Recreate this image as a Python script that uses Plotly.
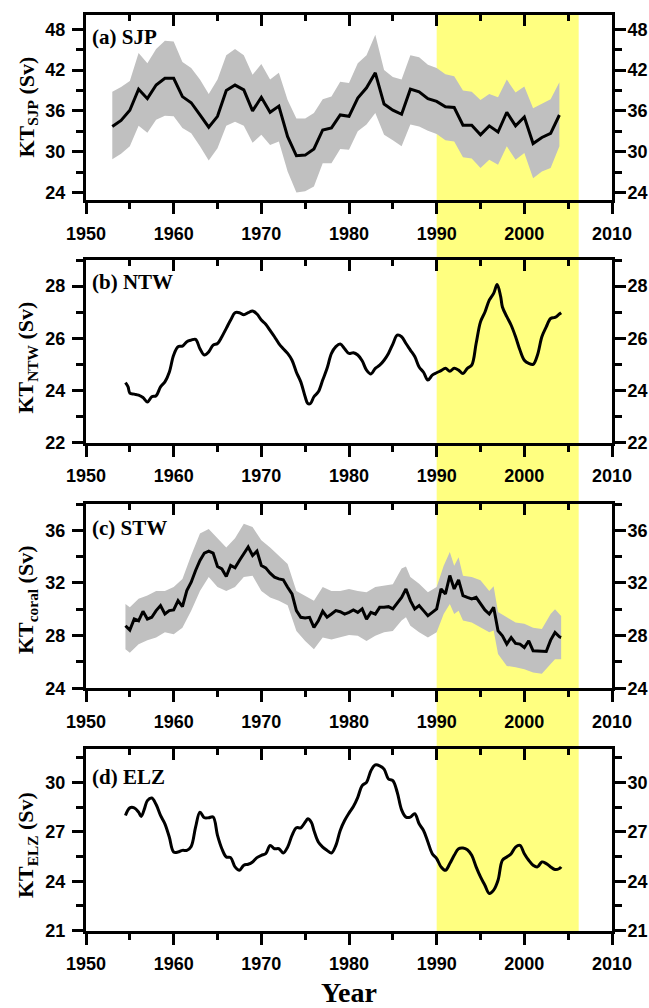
import plotly.graph_objects as go

# ---------------- data ----------------
# (a) SJP annual
sjp_years = list(range(1953, 2005))
sjp_mean = [33.7, 34.6, 36.1, 39.2, 37.8, 39.8, 40.8, 40.8, 38.1, 37.2,
            35.4, 33.6, 35.2, 39.0, 39.8, 39.1, 36.0, 38.0, 35.8, 36.7,
            32.2, 29.4, 29.5, 30.4, 33.2, 33.5, 35.4, 35.2, 37.9, 39.4,
            41.6, 37.0, 36.1, 35.5, 39.2, 38.8, 37.8, 37.4, 36.6, 36.5,
            33.9, 33.9, 32.5, 33.8, 32.9, 35.8, 33.8, 35.1, 31.2, 32.1,
            32.7, 35.4]
sjp_upper = [38.8, 39.5, 40.4, 44.5, 43.0, 45.1, 46.3, 46.2, 43.2, 42.3,
             40.6, 38.5, 40.6, 44.2, 45.1, 44.2, 41.3, 42.9, 40.6, 41.6,
             37.6, 34.9, 34.9, 35.7, 37.7, 38.1, 40.3, 40.1, 43.0, 44.2,
             47.2, 42.0, 41.0, 40.6, 44.2, 43.9, 42.8, 42.3, 41.4, 41.1,
             39.0, 38.8, 37.6, 38.5, 38.0, 40.6, 38.7, 39.6, 36.4, 37.1,
             37.7, 40.2]
sjp_lower = [28.9, 29.7, 30.8, 33.8, 32.8, 34.7, 35.3, 35.2, 33.5, 32.7,
             30.8, 28.7, 30.5, 33.8, 34.4, 33.8, 31.3, 32.5, 31.0, 31.5,
             27.1, 24.0, 24.2, 24.9, 28.3, 28.3, 30.4, 30.3, 33.0, 34.0,
             35.7, 32.5, 31.7, 30.8, 34.0, 33.7, 33.1, 32.6, 31.7, 31.5,
             29.2, 29.0, 27.6, 28.8, 28.1, 30.8, 28.8, 29.8, 26.1, 27.1,
             27.6, 30.8]

# (b) NTW
ntw_years = [1954.5, 1954.8, 1955.0, 1955.5, 1956.0, 1956.5, 1957.0, 1957.5, 1958.0, 1958.5,
             1959.0, 1959.5, 1960.0, 1960.5, 1961.0, 1961.5, 1962.0, 1962.5, 1963.0, 1963.5,
             1964.0, 1964.5, 1965.0, 1965.5, 1966.0, 1966.5, 1967.0, 1967.5, 1968.0, 1968.5,
             1969.0, 1969.5, 1970.0, 1970.5, 1971.0, 1971.5, 1972.0, 1972.5, 1973.0, 1973.5,
             1974.0, 1974.5, 1975.0, 1975.3, 1975.6, 1976.0, 1976.5, 1977.0, 1977.5, 1978.0,
             1978.5, 1979.0, 1979.5, 1980.0, 1980.5, 1981.0, 1981.5, 1982.0, 1982.5, 1983.0,
             1983.5, 1984.0, 1984.5, 1985.0, 1985.5, 1986.0, 1986.5, 1987.0, 1987.5, 1988.0,
             1988.5, 1989.0, 1989.5, 1990.0, 1990.5, 1991.0, 1991.5, 1992.0, 1992.5, 1993.0,
             1993.5, 1994.0, 1994.5, 1995.0, 1995.5, 1996.0, 1996.5, 1996.9, 1997.3, 1997.5,
             1998.0, 1998.5, 1999.0, 1999.5, 2000.0, 2000.5, 2001.0, 2001.5, 2002.0, 2002.5,
             2003.0, 2003.5, 2004.0, 2004.2]
ntw_vals = [24.30, 24.14, 23.90, 23.86, 23.82, 23.73, 23.56, 23.76, 23.80, 24.14,
            24.33, 24.70, 25.36, 25.68, 25.70, 25.87, 25.93, 25.96, 25.60, 25.36,
            25.48, 25.74, 25.80, 26.06, 26.38, 26.70, 26.98, 26.98, 26.90, 26.98,
            27.05, 26.93, 26.70, 26.54, 26.30, 26.06, 25.80, 25.60, 25.42, 25.16,
            24.70, 24.33, 23.76, 23.50, 23.50, 23.76, 23.95, 24.40, 24.85, 25.42,
            25.68, 25.78, 25.60, 25.42, 25.45, 25.36, 25.14, 24.78, 24.63, 24.85,
            24.97, 25.16, 25.42, 25.78, 26.12, 26.06, 25.80, 25.55, 25.30, 24.90,
            24.70, 24.40, 24.59, 24.68, 24.76, 24.85, 24.74, 24.85, 24.78, 24.65,
            24.85, 24.97, 25.80, 26.63, 27.00, 27.46, 27.72, 28.06, 27.60, 27.20,
            26.83, 26.50, 26.06, 25.55, 25.16, 25.04, 25.00, 25.36, 26.06, 26.44,
            26.76, 26.80, 26.93, 26.98]

# (c) STW
stw_years = [1954.5, 1955.0, 1955.5, 1956.0, 1956.5, 1957.0, 1957.5, 1958.0, 1958.5, 1959.0,
             1959.5, 1960.0, 1960.5, 1961.0, 1961.5, 1962.0, 1962.5, 1963.0, 1963.5, 1964.0,
             1964.5, 1965.0, 1965.5, 1966.0, 1966.5, 1967.0, 1967.5, 1968.0, 1968.5, 1969.0,
             1969.5, 1970.0, 1970.5, 1971.0, 1971.5, 1972.0, 1972.5, 1973.0, 1973.5, 1974.0,
             1974.5, 1975.0, 1975.5, 1976.0, 1976.5, 1977.0, 1977.5, 1978.0, 1978.5, 1979.0,
             1979.5, 1980.0, 1980.5, 1981.0, 1981.5, 1982.0, 1982.5, 1983.0, 1983.5, 1984.0,
             1984.5, 1985.0, 1985.5, 1986.0, 1986.5, 1987.0, 1987.5, 1988.0, 1988.5, 1989.0,
             1989.5, 1990.0, 1990.5, 1991.0, 1991.5, 1992.0, 1992.5, 1993.0, 1993.5, 1994.0,
             1994.5, 1995.0, 1995.5, 1996.0, 1996.5, 1997.0, 1997.5, 1998.0, 1998.5, 1999.0,
             1999.5, 2000.0, 2000.5, 2001.0, 2001.5, 2002.0, 2002.5, 2003.0, 2003.5, 2004.0,
             2004.2]
stw_mean = [28.75, 28.42, 29.26, 29.13, 29.85, 29.26, 29.40, 29.90, 30.28, 29.64,
            29.90, 29.95, 30.66, 30.20, 31.42, 32.06, 32.95, 33.71, 34.27, 34.42,
            34.27, 33.25, 33.07, 32.49, 33.33, 33.15, 33.71, 34.22, 34.73, 34.09,
            34.42, 33.33, 33.15, 32.75, 32.44, 32.31, 32.24, 31.68, 31.17, 29.90,
            29.39, 29.34, 29.39, 28.63, 29.13, 29.85, 29.40, 29.64, 29.90, 29.82,
            29.64, 29.77, 29.95, 29.77, 30.03, 29.26, 29.77, 29.64, 30.15, 30.15,
            30.20, 30.03, 30.46, 30.91, 31.55, 30.66, 30.03, 30.28, 29.90, 29.52,
            29.77, 30.03, 31.55, 31.17, 32.57, 31.55, 32.24, 31.04, 30.91, 30.79,
            30.91, 30.41, 29.95, 29.64, 30.15, 28.37, 27.99, 27.36, 27.86, 27.41,
            27.36, 27.10, 27.61, 26.85, 26.85, 26.80, 26.80, 27.66, 28.24, 27.91,
            27.86]
stw_band_years = [1954.5, 1955, 1956, 1957, 1958, 1959, 1960, 1961, 1962, 1963,
                  1964, 1965, 1966, 1967, 1968, 1969, 1970, 1971, 1972, 1973,
                  1974, 1975, 1976, 1977, 1978, 1979, 1980, 1981, 1982, 1983,
                  1984, 1985, 1986, 1986.5, 1987, 1988, 1989, 1990, 1990.8, 1991.5,
                  1992, 1992.5, 1993, 1994, 1995, 1996, 1996.5, 1997, 1998, 1999,
                  2000, 2001, 2002, 2003, 2003.5, 2004.2]
stw_upper = [30.40, 30.15, 30.80, 31.05, 31.40, 31.40, 31.70, 32.30, 34.10, 35.75,
             36.10, 35.40, 34.70, 35.40, 36.50, 36.25, 35.25, 34.70, 34.10, 33.45,
             31.40, 31.05, 30.65, 31.70, 31.40, 31.40, 31.55, 31.40, 31.30, 31.70,
             31.80, 31.90, 33.10, 33.25, 32.45, 31.95, 31.30, 31.70, 33.30, 34.35,
             33.30, 33.95, 32.55, 32.45, 32.20, 31.40, 31.75, 29.80, 29.40, 29.00,
             28.90, 28.60, 28.50, 29.65, 30.00, 29.50]
stw_lower = [26.97, 26.70, 27.35, 27.65, 27.85, 28.25, 28.10, 28.60, 29.90, 31.40,
             32.45, 31.70, 31.40, 31.70, 32.45, 32.55, 31.40, 30.90, 30.65, 30.30,
             28.35, 27.60, 26.97, 27.85, 27.70, 27.85, 28.05, 28.00, 27.60, 28.00,
             28.25, 28.35, 29.15, 29.40, 28.75, 28.25, 27.85, 28.25, 29.65, 30.40,
             29.65, 29.90, 29.15, 29.00, 28.60, 28.25, 28.40, 26.60, 25.70, 25.60,
             25.45, 25.20, 25.10, 25.85, 26.20, 26.20]

# (d) ELZ
elz_years = [1954.5, 1955.0, 1955.5, 1956.0, 1956.3, 1956.7, 1957.0, 1957.5, 1958.0, 1958.5,
             1959.0, 1959.5, 1960.0, 1960.5, 1961.0, 1961.5, 1962.0, 1962.5, 1963.0, 1963.5,
             1964.0, 1964.5, 1965.0, 1965.5, 1966.0, 1966.5, 1967.0, 1967.5, 1968.0, 1968.5,
             1969.0, 1969.5, 1970.0, 1970.5, 1971.0, 1971.5, 1972.0, 1972.5, 1973.0, 1973.5,
             1974.0, 1974.5, 1975.0, 1975.3, 1975.7, 1976.0, 1976.5, 1977.0, 1977.5, 1978.0,
             1978.5, 1979.0, 1979.5, 1980.0, 1980.5, 1981.0, 1981.5, 1982.0, 1982.5, 1983.0,
             1983.5, 1984.0, 1984.5, 1985.0, 1985.5, 1986.0, 1986.5, 1987.0, 1987.5, 1988.0,
             1988.5, 1989.0, 1989.5, 1990.0, 1990.5, 1991.0, 1991.5, 1992.0, 1992.5, 1993.0,
             1993.5, 1994.0, 1994.5, 1995.0, 1995.5, 1996.0, 1996.5, 1997.0, 1997.5, 1998.0,
             1998.5, 1999.0, 1999.5, 2000.0, 2000.5, 2001.0, 2001.5, 2002.0, 2002.5, 2003.0,
             2003.5, 2004.0, 2004.2]
elz_vals = [27.99, 28.45, 28.45, 28.19, 27.93, 28.45, 28.89, 29.05, 28.65, 27.99,
            27.48, 26.68, 25.77, 25.77, 25.87, 25.87, 26.11, 27.28, 28.19, 27.85,
            27.85, 27.89, 26.78, 25.97, 25.47, 25.43, 24.87, 24.66, 24.97, 25.03,
            25.17, 25.43, 25.57, 25.67, 26.17, 25.97, 25.97, 25.71, 26.07, 26.78,
            27.24, 27.24, 27.58, 27.79, 27.58, 27.08, 26.38, 26.07, 25.87, 25.71,
            26.17, 27.08, 27.68, 28.13, 28.53, 29.09, 29.80, 30.00, 30.70, 31.05,
            31.00, 30.80, 30.20, 30.10, 29.40, 28.33, 27.89, 27.89, 28.09, 27.48,
            27.08, 26.38, 25.67, 25.37, 24.87, 24.66, 25.07, 25.57, 25.97, 26.01,
            25.91, 25.57, 24.87, 24.26, 23.76, 23.26, 23.46, 24.06, 25.27, 25.47,
            25.67, 26.07, 26.17, 25.67, 25.27, 24.97, 24.87, 25.17, 25.07, 24.87,
            24.71, 24.77, 24.87]

panel_labels = ["(a) SJP", "(b) NTW", "(c) STW", "(d) ELZ"]
ytitles = ["KT<sub>SJP</sub> (Sv)", "KT<sub>NTW</sub> (Sv)",
           "KT<sub>coral</sub> (Sv)", "KT<sub>ELZ</sub> (Sv)"]
y_ranges = [[22.9, 50.1], [22, 29], [24, 38], [21, 32]]
y_dticks = [6, 2, 4, 3]
y_tick0 = [24, 22, 24, 21]
x_range = [1950, 2010]
highlight = [1990, 2006.2]
xlabel = "Year"

# ---------------- figure ----------------
W, H = 649, 1008
ML, MR, MT, MB = 86, 37, 15, 77
ph = H - MT - MB


def dom(top_px, bot_px):
    return [(H - MB - bot_px) / ph, (H - MB - top_px) / ph]


domains = [dom(15, 200), dom(260, 442.7), dom(504, 688.3), dom(749.3, 930.7)]

GRAY = "#C0C0C0"
fig = go.Figure()


def band(xs, up, lo, ax, ay):
    fig.add_trace(go.Scatter(x=list(xs) + list(xs)[::-1], y=list(up) + list(lo)[::-1],
                             fill="toself", fillcolor=GRAY, line=dict(width=0),
                             mode="lines", xaxis=ax, yaxis=ay, showlegend=False,
                             hoverinfo="skip"))


def line(xs, ys, ax, ay, shape="linear"):
    fig.add_trace(go.Scatter(x=xs, y=ys, mode="lines",
                             line=dict(color="black", width=3, shape=shape),
                             xaxis=ax, yaxis=ay, showlegend=False))


band(sjp_years, sjp_upper, sjp_lower, "x", "y")
line(sjp_years, sjp_mean, "x", "y")
line(ntw_years, ntw_vals, "x2", "y2", "spline")
band(stw_band_years, stw_upper, stw_lower, "x3", "y3")
line(stw_years, stw_mean, "x3", "y3")
line(elz_years, elz_vals, "x4", "y4", "spline")

tickfont = dict(family="Liberation Sans", size=18, color="black", weight="bold")
layout = dict(width=W, height=H, margin=dict(l=ML, r=MR, t=MT, b=MB, autoexpand=False),
              paper_bgcolor="white", plot_bgcolor="rgba(0,0,0,0)", showlegend=False)

for i in range(4):
    n = i + 1
    s = "" if n == 1 else str(n)
    top = str(n + 4)
    layout["xaxis" + s] = dict(
        domain=[0, 1], anchor="y" + s, range=x_range, tick0=1950, dtick=10,
        showline=True, linewidth=3, linecolor="black", mirror=False, automargin=False,
        ticks="outside", ticklen=11, tickwidth=3, tickcolor="black",
        minor=dict(ticks="outside", ticklen=6, tickwidth=3, tickcolor="black", dtick=5),
        showgrid=False, zeroline=False, tickfont=tickfont, ticklabelstandoff=4)
    layout["xaxis" + top] = dict(
        overlaying="x" + s, anchor="y" + s, side="top", range=x_range, tick0=1950, dtick=10,
        showline=True, linewidth=3, linecolor="black", automargin=False,
        ticks="inside", ticklen=11, tickwidth=3, tickcolor="black",
        minor=dict(ticks="inside", ticklen=6, tickwidth=3, tickcolor="black", dtick=5),
        showticklabels=False, showgrid=False, zeroline=False)
    common_y = dict(range=y_ranges[i], tick0=y_tick0[i], dtick=y_dticks[i],
                    showline=True, linewidth=3, linecolor="black", automargin=False,
                    ticks="outside", ticklen=11, tickwidth=3, tickcolor="black",
                    minor=dict(ticks="outside", ticklen=7, tickwidth=3, tickcolor="black",
                               dtick=y_dticks[i] / 2),
                    showgrid=False, zeroline=False, tickfont=tickfont)
    layout["yaxis" + s] = dict(domain=domains[i], anchor="x" + s, ticklabelstandoff=3, **common_y)
    layout["yaxis" + top] = dict(overlaying="y" + s, anchor="x" + s, side="right",
                                 ticklabelstandoff=-2, **common_y)
    # dummy traces so overlay axes are drawn
    fig.add_trace(go.Scatter(x=[None], y=[None], xaxis="x" + top, yaxis="y" + s,
                             showlegend=False, hoverinfo="skip"))
    fig.add_trace(go.Scatter(x=[None], y=[None], xaxis="x" + s, yaxis="y" + top,
                             showlegend=False, hoverinfo="skip"))

fig.update_layout(**layout)

fig.add_shape(type="rect", xref="x", yref="paper", x0=highlight[0], x1=highlight[1],
              y0=0, y1=1, fillcolor="#FFFF80", line=dict(width=0), layer="below")

serif = "Liberation Serif"
label_y = [0.88, 0.877, 0.87, 0.85]
title_y = [0.5, 0.466, 0.479, 0.472]
for i in range(4):
    s = "" if i == 0 else str(i + 1)
    fig.add_annotation(text="<b>" + panel_labels[i] + "</b>", xref="x" + s + " domain",
                       yref="y" + s + " domain", x=0.008, y=label_y[i], xanchor="left",
                       yanchor="middle", showarrow=False,
                       font=dict(family=serif, size=21, color="black"))
    fig.add_annotation(text="<b>" + ytitles[i] + "</b>", xref="paper",
                       yref="y" + s + " domain", x=(27 - ML) / (W - ML - MR), y=title_y[i],
                       xanchor="center", yanchor="middle", textangle=-90, showarrow=False,
                       font=dict(family=serif, size=22, color="black"))

fig.add_annotation(text="<b>" + xlabel + "</b>", xref="paper", yref="paper",
                   x=(349 - ML) / (W - ML - MR), y=(H - MB - 992) / ph,
                   xanchor="center", yanchor="middle", showarrow=False,
                   font=dict(family=serif, size=28, color="black"))

fig.write_html("out.html")
